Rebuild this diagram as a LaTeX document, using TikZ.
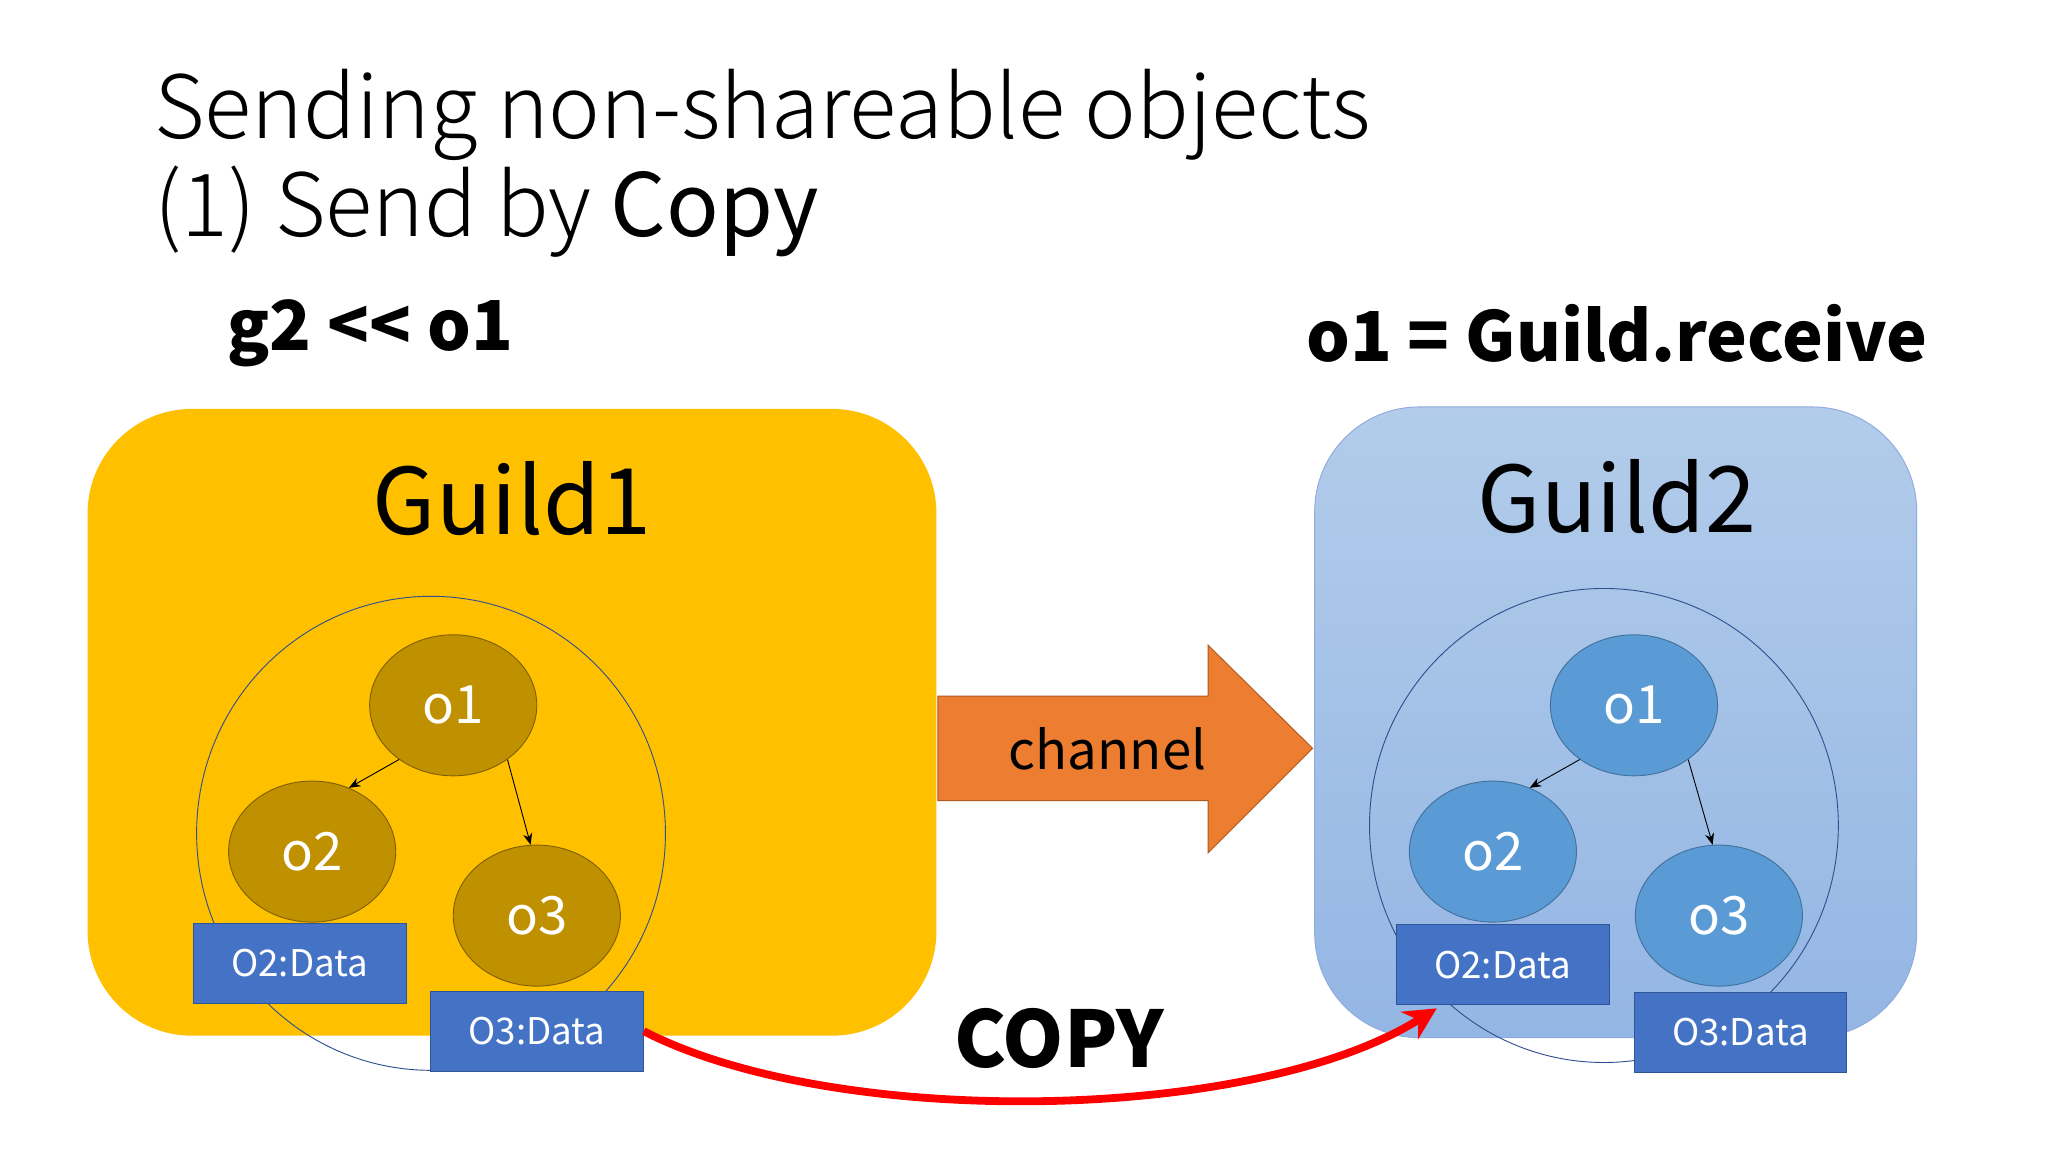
\documentclass[tikz,border=0pt]{standalone}
\usepackage{fontspec}
\setmainfont{Noto Sans CJK JP}
\usetikzlibrary{shapes.geometric,arrows.meta}
\definecolor{gold}{HTML}{FFC000}
\definecolor{objY}{HTML}{BF9000}
\definecolor{objYb}{HTML}{7F6000}
\definecolor{objB}{HTML}{5B9BD5}
\definecolor{objBb}{HTML}{41719C}
\definecolor{dataB}{HTML}{4472C4}
\definecolor{dataBb}{HTML}{2F5597}
\definecolor{ringB}{HTML}{2F4F8F}
\definecolor{chan}{HTML}{ED7D31}
\definecolor{chanb}{HTML}{AE5A21}
\begin{document}
\begin{tikzpicture}[x=0.02cm,y=-0.02cm,
  obj/.style={ellipse,minimum width=2.56cm,minimum height=2.16cm,inner sep=0pt,text=white,font=\fontsize{23}{23}\selectfont},
  yobj/.style={obj,fill=objY,draw=objYb},
  bobj/.style={obj,fill=objB,draw=objBb},
  data/.style={rectangle,minimum width=3.26cm,minimum height=1.22cm,inner sep=0pt,fill=dataB,draw=dataBb,text=white,font=\fontsize{16}{16}\selectfont},
  ring/.style={ellipse,draw=ringB,thin,minimum width=7.18cm,minimum height=7.26cm,inner sep=0pt},
  lnk/.style={-{Stealth[length=5pt,width=4pt]},thin},
  big/.style={font=\fontsize{30}{30}\selectfont\bfseries}]
\useasboundingbox (0,0) rectangle (1568,882);
\fill[white] (0,0) rectangle (1568,882);
% titles
\node[anchor=west,align=left,font=\fontsize{38}{43}\selectfont] (title) at (112,125) {\fontspec{Noto Sans CJK JP Light}Sending non-shareable objects\\\fontspec{Noto Sans CJK JP Light}(1) Send by {\fontspec{Noto Sans CJK JP}Copy}};
\node[big,anchor=west] (send) at (168,255) {g2 {<}{<} o1};
\node[big,anchor=east] (recv) at (1482,255) {o1 = Guild.receive};
% guild boxes
\node[draw=none,fill=gold,rounded corners=1.6cm,minimum width=13cm,minimum height=9.6cm,inner sep=0pt] (g1) at (392,553) {};
\node[draw={rgb,255:red,143;green,170;blue,220},top color={rgb,255:red,178;green,204;blue,234},bottom color={rgb,255:red,148;green,182;blue,228},rounded corners=1.6cm,minimum width=9.22cm,minimum height=9.66cm,inner sep=0pt] (g2) at (1237,553) {};
\node[font=\fontsize{40}{40}\selectfont] (g1t) at (392,382) {Guild1};
\node[font=\fontsize{40}{40}\selectfont] (g2t) at (1238,380) {Guild2};
% channel arrow
\fill[chan,draw=chanb] (718,533) -- (925,533) -- (925,494) -- (1005,573) -- (925,653) -- (925,613) -- (718,613) -- cycle;
\node[font=\fontsize{23}{23}\selectfont] (cht) at (848,573) {channel};
% rings
\node[ring] (r1) at (330,638) {};
\node[ring] (r2) at (1228,632) {};
% guild1 objects
\node[yobj] (a1) at (347,540) {o1};
\node[yobj] (a2) at (239,652) {o2};
\node[yobj] (a3) at (411,701) {o3};
\draw[lnk] (a1.225) -- (a2.60);
\draw[lnk] (a1.315) -- (a3.95);
\node[data] (d2) at (229.5,737.5) {O2:Data};
\node[data] (d3) at (411,789.5) {O3:Data};
% guild2 objects
\node[bobj] (b1) at (1251,540) {o1};
\node[bobj] (b2) at (1143,652) {o2};
\node[bobj] (b3) at (1316,701) {o3};
\draw[lnk] (b1.225) -- (b2.60);
\draw[lnk] (b1.315) -- (b3.95);
\node[data] (e2) at (1150.5,738.5) {O2:Data};
\node[data] (e3) at (1332.5,790.5) {O3:Data};
% copy
\node[font=\fontsize{34}{34}\selectfont\bfseries] (cp) at (811,795) {COPY};
\coordinate (tip) at (1100,772);
\draw[red,line width=3.4pt,-{Stealth[length=14pt,width=14pt]}] (d3.east) .. controls (640,865) and (960,860) .. (tip);
\end{tikzpicture}
\end{document}
